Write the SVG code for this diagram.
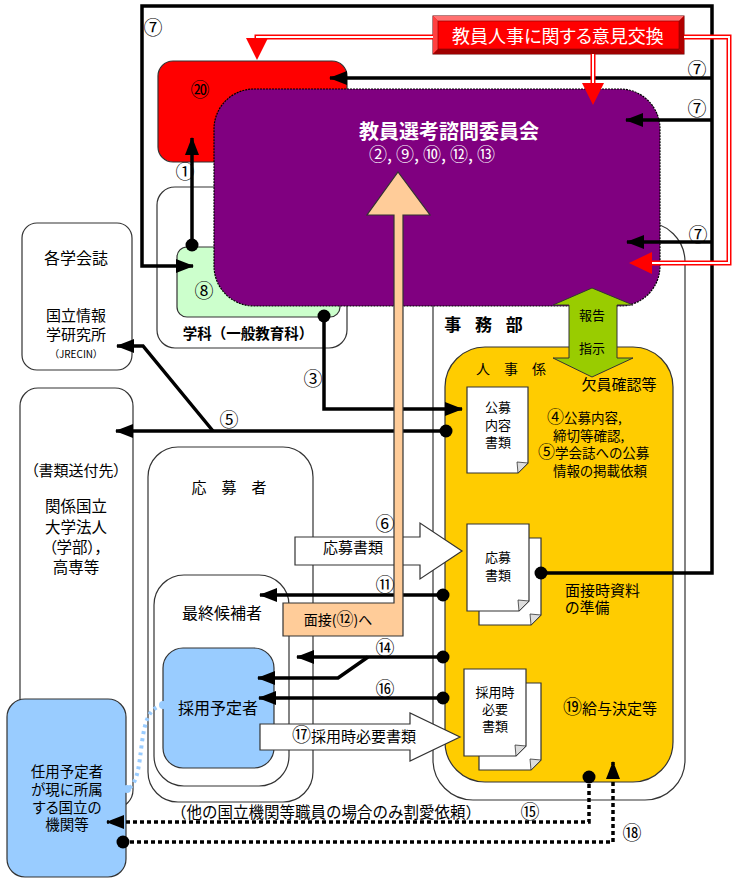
<svg xmlns="http://www.w3.org/2000/svg" width="733" height="880" viewBox="0 0 733 880">
<defs>
<marker id="arr" markerUnits="userSpaceOnUse" markerWidth="18" markerHeight="14" refX="17" refY="7" orient="auto"><path d="M0,0 L18,7 L0,14 z" fill="#000"/></marker>
<marker id="dot" markerUnits="userSpaceOnUse" markerWidth="14" markerHeight="14" refX="7" refY="7"><circle cx="7" cy="7" r="6.5" fill="#000"/></marker>
</defs>
<style>
.t{font-family:"Noto Sans CJK JP","Noto Sans CJK SC",sans-serif;fill:#000;text-anchor:middle;font-feature-settings:"palt";}
.np{font-feature-settings:normal}
.s{text-anchor:start}
.w{fill:#fff}
.b{font-weight:bold}
.n{font-size:19px}
.ln{fill:none;stroke:#000;stroke-width:3.5}
.dl{fill:none;stroke:#000;stroke-width:3.5;stroke-dasharray:4,3}
.box{fill:#fff;stroke:#333;stroke-width:1.2}
.rd{fill:none;stroke:#ff0000;stroke-width:5}
.rw{fill:none;stroke:#fff;stroke-width:2}
.ra{fill:#ff0000}
.doc{fill:#fff;stroke:#333;stroke-width:1.2}
.fold{fill:#ddd;stroke:#333;stroke-width:0.8}
.blk{fill:#fff;stroke:#333;stroke-width:1.2}
</style>
<rect width="733" height="880" fill="#fff"/>

<g id="jimubu"><rect class="box" x="433" y="222" width="252" height="578" rx="40"/>
<text class="t b np" x="486" y="331" font-size="17" letter-spacing="5">事 務 部</text></g>

<g id="gakka"><rect class="box" x="157" y="187" width="190" height="161" rx="18"/>
<text class="t b np" x="248" y="339" font-size="14.5">学科（一般教育科）</text></g>

<g id="gakka-inner"><rect x="177" y="247" width="163" height="70" rx="10" fill="#ccffcc" stroke="#333" stroke-width="1.2"/>
<text class="t n" x="204" y="298">⑧</text></g>

<g id="node20"><rect x="158" y="61" width="189" height="101" rx="15" fill="#ff0000" stroke="#333" stroke-width="1.2"/>
<text class="t n" x="200" y="97">⑳</text></g>

<g id="gakkaishi"><rect class="box" x="22" y="223" width="110" height="147" rx="15"/>
<text class="t" x="76" y="264" font-size="16">各学会誌</text>
<text class="t" x="76" y="321" font-size="15">国立情報</text>
<text class="t" x="76" y="340" font-size="15">学研究所</text>
<text class="t" x="76" y="358" font-size="10">（JRECIN）</text></g>

<g id="soufusaki"><rect class="box" x="20" y="388" width="113" height="420" rx="18"/>
<text class="t" x="76" y="476" font-size="15">（書類送付先）</text>
<text class="t" x="76" y="512" font-size="15.5">関係国立</text>
<text class="t" x="76" y="533" font-size="15.5">大学法人</text>
<text class="t" x="76" y="553" font-size="15.5">（学部），</text>
<text class="t" x="76" y="573" font-size="15.5">高専等</text></g>

<g id="ninyo"><rect x="7" y="699" width="119" height="178" rx="18" fill="#99ccff" stroke="#333" stroke-width="1.2"/>
<text class="t" x="67" y="777" font-size="14.5">任用予定者</text>
<text class="t" x="67" y="795" font-size="14.5">が現に所属</text>
<text class="t" x="67" y="813" font-size="14.5">する国立の</text>
<text class="t" x="67" y="830" font-size="14.5">機関等</text></g>

<g id="oubosha"><rect class="box" x="148" y="447" width="165" height="355" rx="30"/>
<text class="t" x="229" y="493" font-size="15">応　募　者</text></g>

<g id="saishu"><rect class="box" x="154" y="575" width="135" height="211" rx="30"/>
<text class="t" x="222" y="619" font-size="16">最終候補者</text></g>

<g id="saiyo"><rect x="163" y="648" width="111" height="120" rx="20" fill="#99ccff" stroke="#333" stroke-width="1.2"/>
<text class="t" x="218" y="714" font-size="16">採用予定者</text></g>

<g id="iinkai"><rect x="214" y="89" width="446" height="217" rx="40" fill="#800080" stroke="#000" stroke-width="1.2" stroke-dasharray="2,1"/>
<text class="t b w" x="449" y="139" font-size="20">教員選考諮問委員会</text>
<text class="t w" x="432" y="161" font-size="18">②, ⑨, ⑩, ⑫, ⑬</text></g>

<g id="jinjigakari"><rect x="445" y="347" width="228" height="435" rx="40" fill="#ffcc00" stroke="#333" stroke-width="1.2"/>
<text class="t np" x="511" y="374" font-size="14">人　事　係</text>
<text class="t" x="619" y="390" font-size="15">欠員確認等</text>
<text class="t s" x="547" y="423" font-size="13.5"><tspan font-size="17">④</tspan>公募内容,</text>
<text class="t s" x="553" y="441" font-size="13.5">締切等確認,</text>
<text class="t s" x="538" y="458" font-size="13.5"><tspan font-size="17">⑤</tspan>学会誌への公募</text>
<text class="t s" x="553" y="476" font-size="13.5">情報の掲載依頼</text>
<text class="t s" x="565" y="596" font-size="15">面接時資料</text>
<text class="t s" x="565" y="613" font-size="15">の準備</text>
<text class="t" x="610" y="714" font-size="15"><tspan font-size="19">⑲</tspan>給与決定等</text></g>

<g id="doc-koubo"><path class="doc" d="M467,387 h61 v76 l-10,10 h-51 z"/><polygon class="fold" points="518,473 528,463 517,462"/>
<text class="t" x="498" y="412" font-size="13">公募</text>
<text class="t" x="498" y="430" font-size="13">内容</text>
<text class="t" x="498" y="447" font-size="13">書類</text></g>

<g id="doc-oubo"><path class="doc" d="M479,538 h62 v77 l-10,10 h-52 z"/><polygon class="fold" points="531,625 541,615 530,614"/>
<path class="doc" d="M467,524 h62 v77 l-10,10 h-52 z"/><polygon class="fold" points="519,611 529,601 518,600"/>
<text class="t" x="498" y="562" font-size="13">応募</text>
<text class="t" x="498" y="580" font-size="13">書類</text></g>

<g id="doc-saiyo"><path class="doc" d="M479,683 h62 v77 l-10,10 h-52 z"/><polygon class="fold" points="531,770 541,760 530,759"/>
<path class="doc" d="M464,669 h62 v77 l-10,10 h-52 z"/><polygon class="fold" points="516,756 526,746 515,745"/>
<text class="t" x="495" y="697" font-size="13">採用時</text>
<text class="t" x="495" y="714" font-size="13">必要</text>
<text class="t" x="495" y="731" font-size="13">書類</text></g>

<g id="iken"><rect x="433" y="16" width="251" height="38" fill="#e00000" stroke="#600" stroke-width="1"/>
<polygon points="433,16 684,16 679,21 438,21" fill="#ff7070"/>
<polygon points="433,16 438,21 438,49 433,54" fill="#ff4040"/>
<polygon points="433,54 438,49 679,49 684,54" fill="#a00000"/>
<polygon points="684,16 684,54 679,49 679,21" fill="#b00000"/>
<rect x="438" y="21" width="241" height="28" fill="#ff0000" stroke="#800000" stroke-width="0.6"/>
<text class="t w" x="558" y="43" font-size="18">教員人事に関する意見交換</text></g>

<g id="connectors">
<polyline class="ln" points="541,573 712,573 712,6 142,6 142,266 193,266" marker-start="url(#dot)" marker-end="url(#arr)"/>
<line class="ln" x1="712" y1="78" x2="330" y2="78" marker-end="url(#arr)"/>
<line class="ln" x1="712" y1="120" x2="626" y2="120" marker-end="url(#arr)"/>
<line class="ln" x1="712" y1="242" x2="627" y2="242" marker-end="url(#arr)"/>
<line class="ln" x1="192" y1="245" x2="192" y2="138" marker-start="url(#dot)" marker-end="url(#arr)"/>
<polyline class="ln" points="324,316 324,409 462,409" marker-start="url(#dot)" marker-end="url(#arr)"/>
<line class="ln" x1="446" y1="431" x2="116" y2="431" marker-start="url(#dot)" marker-end="url(#arr)"/>
<polyline class="ln" points="213,431 143,346 117,346" marker-end="url(#arr)"/>
<line class="ln" x1="443" y1="595" x2="260" y2="595" marker-start="url(#dot)" marker-end="url(#arr)"/>
<line class="ln" x1="443" y1="657" x2="297" y2="657" marker-start="url(#dot)" marker-end="url(#arr)"/>
<polyline class="ln" points="368,657 338,678 258,678" marker-end="url(#arr)"/>
<line class="ln" x1="443" y1="698" x2="259" y2="698" marker-start="url(#dot)" marker-end="url(#arr)"/>
<polyline class="dl" points="589,777 589,822 107,822" marker-start="url(#dot)" marker-end="url(#arr)"/>
<polyline class="dl" points="123,842 613,842 613,762" marker-start="url(#dot)" marker-end="url(#arr)"/>
<path d="M163,705 C148,708 145,722 142,742 C139,765 138,785 126,790" fill="none" stroke="#99ccff" stroke-width="4" stroke-dasharray="3,4"/>
<circle cx="163" cy="705" r="4" fill="#99ccff"/>
<circle cx="127" cy="789" r="4" fill="#99ccff"/>
<polyline class="rd" points="433,37 257,37 257,40"/>
<polyline class="rw" points="433,37 257,37 257,40"/>
<polygon class="ra" points="246,38 268,38 257,60"/>
<line class="rd" x1="593" y1="54" x2="593" y2="84"/>
<line class="rw" x1="593" y1="54" x2="593" y2="84"/>
<polygon class="ra" points="582,83 604,83 593,105"/>
<polyline class="rd" points="684,37 729,37 729,263 650,263"/>
<polyline class="rw" points="684,37 729,37 729,263 650,263"/>
<polygon class="ra" points="652,252 652,274 629,263"/>
<polygon points="592,288 633,305 617,305 617,358 633,358 592,377 553,358 569,358 569,305 553,305" fill="#99cc00" stroke="#333" stroke-width="1"/>
<text class="t" x="592" y="320" font-size="13">報告</text>
<text class="t" x="592" y="353" font-size="13">指示</text>
<polygon class="blk" points="295,537 420,537 420,523 462,551 420,579 420,565 295,565"/>
<text class="t" x="353" y="553" font-size="15">応募書類</text>
<polygon class="blk" points="260,724 410,724 410,713 460,737 410,761 410,750 260,750"/>
<text class="t" x="354" y="742" font-size="15"><tspan font-size="19">⑰</tspan>採用時必要書類</text>
<polygon points="283,603 394,603 394,215 367,215 398,172 430,215 403,215 403,636 283,636" fill="#ffcc99" stroke="#333" stroke-width="1.2"/>
<text class="t" x="338" y="625" font-size="14">面接(<tspan font-size="17">⑫</tspan>)へ</text>
</g>

<g id="labels">
<text class="t n" x="153" y="35">⑦</text>
<text class="t n" x="697" y="77">⑦</text>
<text class="t n" x="697" y="116">⑦</text>
<text class="t n" x="698" y="242">⑦</text>
<text class="t n" x="185" y="179">①</text>
<text class="t n" x="313" y="386">③</text>
<text class="t n" x="229" y="427">⑤</text>
<text class="t n" x="385" y="531">⑥</text>
<text class="t n" x="385" y="592">⑪</text>
<text class="t n" x="385" y="655">⑭</text>
<text class="t n" x="385" y="696">⑯</text>
<text class="t n" x="530" y="819">⑮</text>
<text class="t n" x="632" y="840">⑱</text>
<text class="t np" x="326" y="818" font-size="15.5">（他の国立機関等職員の場合のみ割愛依頼）</text>
</g>
</svg>
